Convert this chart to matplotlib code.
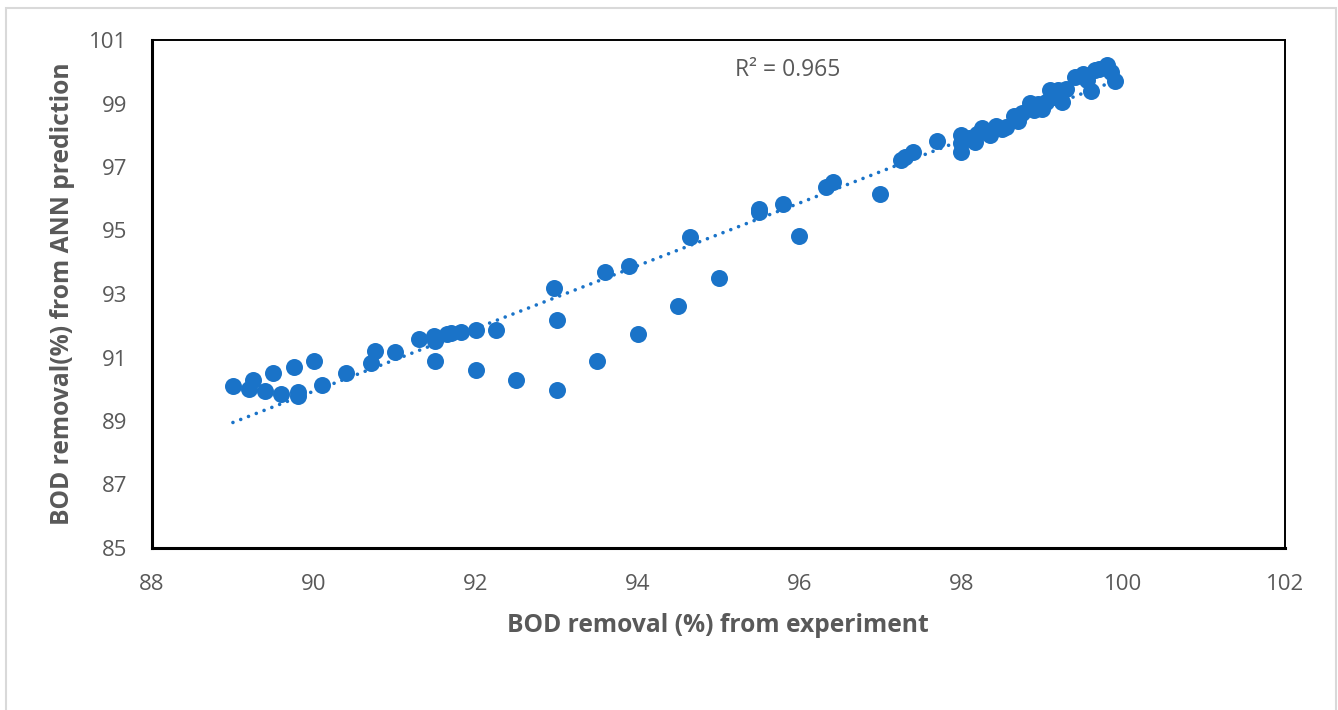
import numpy as np
import matplotlib.pyplot as plt
from matplotlib.patches import Rectangle

# BOD removal (%)
experiment = [89.0, 89.2, 89.25, 89.4, 89.5, 89.6, 89.75, 89.8, 89.8, 90.0,
              90.1, 90.4, 90.7, 90.75, 91.0, 91.3, 91.48, 91.5, 91.5, 91.65,
              91.7, 91.82, 92.0, 92.0, 92.25, 92.5, 92.97, 93.0, 93.0, 93.5,
              93.6, 93.9, 94.0, 94.5, 94.65, 95.0, 95.5, 95.5, 95.8, 96.0,
              96.33, 96.42, 97.0, 97.25, 97.3, 97.4, 97.7, 98.0, 98.0, 98.0,
              98.1, 98.17, 98.2, 98.25, 98.3, 98.35, 98.43, 98.5, 98.55, 98.65,
              98.7, 98.75, 98.85, 98.9, 98.95, 99.0, 99.05, 99.1, 99.15, 99.2,
              99.25, 99.3, 99.4, 99.5, 99.55, 99.6, 99.65, 99.7, 99.8, 99.85,
              99.9]
ann_pred = [90.10, 90.02, 90.29, 89.93, 90.50, 89.86, 90.70, 89.90, 89.78, 90.89,
            90.13, 90.50, 90.84, 91.22, 91.18, 91.58, 91.67, 91.52, 90.90, 91.73,
            91.78, 91.81, 91.87, 90.60, 91.86, 90.28, 93.18, 92.18, 89.99, 90.88,
            93.70, 93.87, 91.74, 92.61, 94.80, 93.49, 95.68, 95.58, 95.84, 94.82,
            96.38, 96.52, 96.14, 97.22, 97.33, 97.48, 97.82, 98.00, 97.75, 97.48,
            97.90, 97.78, 98.05, 98.22, 98.10, 98.00, 98.30, 98.20, 98.25, 98.62,
            98.45, 98.70, 99.02, 98.78, 99.00, 98.82, 99.05, 99.42, 99.20, 99.42,
            99.05, 99.45, 99.82, 99.92, 99.75, 99.38, 100.05, 100.10, 100.20, 99.98,
            99.72]

x_ticks = [88, 90, 92, 94, 96, 98, 100, 102]
y_ticks = [85, 87, 89, 91, 93, 95, 97, 99, 101]
r2_text = "R² = 0.965"

blue = "#1A73C8"
grey = "#595959"
plt.rcParams["font.family"] = ["Open Sans", "DejaVu Sans"]

fig = plt.figure(figsize=(13.38, 7.10), dpi=100)
fig.patches.append(Rectangle((6 / 1338, -0.01), 1330 / 1338, 1 - 8 / 710 + 0.01,
                             transform=fig.transFigure, fill=False,
                             edgecolor="#D9D9D9", linewidth=1.5))
ax = fig.add_axes([152 / 1338, 1 - 548 / 710, 1133 / 1338, 508 / 710])

ax.scatter(experiment, ann_pred, s=150, color=blue, zorder=3, linewidths=0)

# linear trendline
xe = np.array(experiment)
slope, icpt = np.polyfit(xe, np.array(ann_pred), 1)
xl = np.array([xe.min(), xe.max()])
ax.plot(xl, slope * xl + icpt, color=blue, linewidth=2.6,
        linestyle=(0, (0.01, 2.3)), dash_capstyle="round", zorder=2)

ax.text(95.2, 100.06, r2_text, fontsize=16.5, color=grey, va="center", ha="left")

ax.set_xlim(88, 102)
ax.set_ylim(85, 101)
ax.set_xticks(x_ticks)
ax.set_yticks(y_ticks)
ax.tick_params(length=0, labelsize=16, labelcolor=grey)
ax.tick_params(axis="x", pad=19)
ax.tick_params(axis="y", pad=18)
for side in ["left", "bottom"]:
    ax.spines[side].set_linewidth(2.2)
for side in ["top", "right"]:
    ax.spines[side].set_linewidth(1.4)

fig.text(718 / 1338, 1 - 626 / 710, "BOD removal (%) from experiment",
         fontsize=17.7, fontweight="bold", color=grey, ha="center", va="center")
fig.text(63 / 1338, 1 - 294 / 710, "BOD removal(%) from ANN prediction",
         fontsize=17.7, fontweight="bold", color=grey, ha="center", va="center",
         rotation=90)

fig.savefig("out.png", dpi=100)
